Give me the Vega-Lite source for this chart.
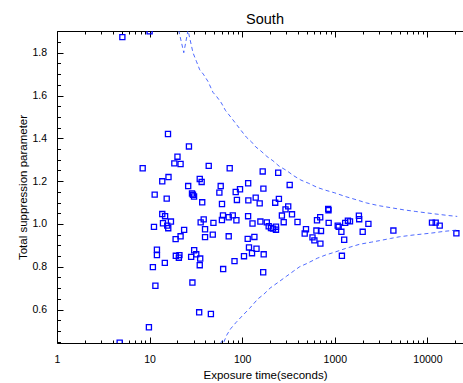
{
  "$schema": "https://vega.github.io/schema/vega-lite/v6.json",
  "width": 406,
  "height": 312,
  "autosize": {"type": "none"},
  "padding": {"left": 57, "top": 31, "right": 0, "bottom": 40},
  "background": "white",
  "config": {"view": {"stroke": null}, "font": "Liberation Sans"},
  "title": {"text": "South", "fontSize": 14.5, "fontWeight": "normal", "font": "Liberation Sans", "color": "black", "dx": 5, "dy": 17, "offset": 5, "baseline": "alphabetic"},
  "datasets": {
    "pts": [
      {"t": 5.08, "v": 1.873}, {"t": 10.0, "v": 1.9}, {"t": 4.75, "v": 0.445}, {"t": 8.42, "v": 1.26},
      {"t": 15.8, "v": 1.42}, {"t": 26.6, "v": 1.362}, {"t": 20.0, "v": 1.314}, {"t": 18.5, "v": 1.283},
      {"t": 21.6, "v": 1.28}, {"t": 43.5, "v": 1.271}, {"t": 73.3, "v": 1.26}, {"t": 13.7, "v": 1.199},
      {"t": 16.0, "v": 1.219}, {"t": 34.8, "v": 1.21}, {"t": 36.5, "v": 1.196}, {"t": 26.1, "v": 1.177},
      {"t": 58.6, "v": 1.177}, {"t": 116, "v": 1.19}, {"t": 11.35, "v": 1.137}, {"t": 15.3, "v": 1.118},
      {"t": 28.7, "v": 1.142}, {"t": 29.4, "v": 1.136}, {"t": 30.2, "v": 1.128}, {"t": 56.7, "v": 1.146},
      {"t": 85.1, "v": 1.149}, {"t": 94.7, "v": 1.162}, {"t": 87.7, "v": 1.112}, {"t": 116.5, "v": 1.11},
      {"t": 37.0, "v": 1.101}, {"t": 60.5, "v": 1.093}, {"t": 13.7, "v": 1.046}, {"t": 14.7, "v": 1.036},
      {"t": 11.15, "v": 0.986}, {"t": 13.95, "v": 1.003}, {"t": 15.5, "v": 0.992}, {"t": 15.9, "v": 0.98},
      {"t": 17.0, "v": 1.011}, {"t": 23.6, "v": 0.972}, {"t": 19.1, "v": 0.929}, {"t": 21.6, "v": 0.942},
      {"t": 35.6, "v": 1.007}, {"t": 38.4, "v": 1.021}, {"t": 39.7, "v": 0.975}, {"t": 48.9, "v": 1.005},
      {"t": 62.0, "v": 1.04}, {"t": 60.4, "v": 1.018}, {"t": 71.5, "v": 1.031}, {"t": 79.1, "v": 1.04},
      {"t": 86.6, "v": 1.017}, {"t": 115.8, "v": 1.036}, {"t": 39.7, "v": 0.938}, {"t": 48.1, "v": 0.95},
      {"t": 71.5, "v": 0.942}, {"t": 114.7, "v": 0.93}, {"t": 12.0, "v": 0.88}, {"t": 12.0, "v": 0.854},
      {"t": 30.3, "v": 0.877}, {"t": 31.9, "v": 0.858}, {"t": 28.1, "v": 0.846}, {"t": 35.2, "v": 0.838},
      {"t": 34.8, "v": 0.807}, {"t": 14.6, "v": 0.818}, {"t": 10.85, "v": 0.798}, {"t": 19.2, "v": 0.851},
      {"t": 21.0, "v": 0.854}, {"t": 20.7, "v": 0.842}, {"t": 11.55, "v": 0.711}, {"t": 29.0, "v": 0.726},
      {"t": 62.3, "v": 0.789}, {"t": 82.6, "v": 0.826}, {"t": 104.6, "v": 0.849}, {"t": 118.4, "v": 0.89},
      {"t": 34.3, "v": 0.587}, {"t": 45.9, "v": 0.579}, {"t": 9.83, "v": 0.517}, {"t": 142.7, "v": 0.884},
      {"t": 127.6, "v": 0.863}, {"t": 170.7, "v": 0.858}, {"t": 168.6, "v": 0.774}, {"t": 135.4, "v": 0.939},
      {"t": 166.5, "v": 1.245}, {"t": 244.8, "v": 1.239}, {"t": 169.4, "v": 1.165}, {"t": 325.8, "v": 1.182},
      {"t": 139.9, "v": 1.123}, {"t": 154.5, "v": 1.096}, {"t": 249.1, "v": 1.117}, {"t": 227.2, "v": 1.099},
      {"t": 314, "v": 1.082}, {"t": 293.6, "v": 1.068}, {"t": 345, "v": 1.045}, {"t": 268.4, "v": 1.039},
      {"t": 129.2, "v": 1.002}, {"t": 157.2, "v": 1.011}, {"t": 184.4, "v": 1.007}, {"t": 193.3, "v": 0.989},
      {"t": 204.6, "v": 0.981}, {"t": 215.1, "v": 0.978}, {"t": 231.7, "v": 0.987}, {"t": 231.7, "v": 0.973},
      {"t": 280.7, "v": 1.008}, {"t": 395.6, "v": 1.009}, {"t": 848.6, "v": 1.07}, {"t": 855, "v": 1.064},
      {"t": 695.7, "v": 1.031}, {"t": 642.5, "v": 1.017}, {"t": 859, "v": 1.005}, {"t": 488.6, "v": 0.975},
      {"t": 473.2, "v": 0.955}, {"t": 633, "v": 0.969}, {"t": 709.6, "v": 0.967}, {"t": 574.4, "v": 0.937},
      {"t": 602, "v": 0.923}, {"t": 699, "v": 0.908}, {"t": 1075, "v": 0.992}, {"t": 1102, "v": 0.986},
      {"t": 1178, "v": 0.963}, {"t": 1263, "v": 0.926}, {"t": 1193, "v": 0.851}, {"t": 1295, "v": 1.005},
      {"t": 1385, "v": 1.015}, {"t": 1459, "v": 1.012}, {"t": 1821, "v": 1.038}, {"t": 1834, "v": 1.022},
      {"t": 2306, "v": 1.0}, {"t": 2001, "v": 0.963}, {"t": 4293, "v": 0.969}, {"t": 11210, "v": 1.006},
      {"t": 12290, "v": 1.006}, {"t": 13580, "v": 0.992}, {"t": 20570, "v": 0.956}
    ],
    "curves": [
      {"s": "u", "o": 1, "t": 20.6, "v": 1.905}, {"s": "u", "o": 2, "t": 23.4, "v": 1.8}, {"s": "u", "o": 3, "t": 26.0, "v": 1.905},
      {"s": "u", "o": 4, "t": 29.4, "v": 1.8}, {"s": "u", "o": 5, "t": 32, "v": 1.76}, {"s": "u", "o": 6, "t": 34.8, "v": 1.72},
      {"s": "u", "o": 7, "t": 38, "v": 1.7}, {"s": "u", "o": 8, "t": 42.8, "v": 1.665}, {"s": "u", "o": 9, "t": 48.3, "v": 1.615},
      {"s": "u", "o": 10, "t": 53, "v": 1.595}, {"s": "u", "o": 11, "t": 59.6, "v": 1.565}, {"s": "u", "o": 12, "t": 66, "v": 1.53},
      {"s": "u", "o": 13, "t": 75, "v": 1.5}, {"s": "u", "o": 14, "t": 86.6, "v": 1.465}, {"s": "u", "o": 15, "t": 98, "v": 1.435},
      {"s": "u", "o": 16, "t": 111, "v": 1.405}, {"s": "u", "o": 17, "t": 125, "v": 1.385}, {"s": "u", "o": 18, "t": 140, "v": 1.36},
      {"s": "u", "o": 19, "t": 160, "v": 1.34}, {"s": "u", "o": 20, "t": 185, "v": 1.315}, {"s": "u", "o": 21, "t": 215, "v": 1.295},
      {"s": "u", "o": 22, "t": 250, "v": 1.27}, {"s": "u", "o": 23, "t": 300, "v": 1.25}, {"s": "u", "o": 24, "t": 360, "v": 1.225},
      {"s": "u", "o": 25, "t": 430, "v": 1.205}, {"s": "u", "o": 26, "t": 520, "v": 1.19}, {"s": "u", "o": 27, "t": 650, "v": 1.17},
      {"s": "u", "o": 28, "t": 800, "v": 1.157}, {"s": "u", "o": 29, "t": 1000, "v": 1.145}, {"s": "u", "o": 30, "t": 1300, "v": 1.128},
      {"s": "u", "o": 31, "t": 1700, "v": 1.113}, {"s": "u", "o": 32, "t": 2200, "v": 1.098}, {"s": "u", "o": 33, "t": 3000, "v": 1.085},
      {"s": "u", "o": 34, "t": 4000, "v": 1.076}, {"s": "u", "o": 35, "t": 5500, "v": 1.066}, {"s": "u", "o": 36, "t": 7500, "v": 1.058},
      {"s": "u", "o": 37, "t": 10000, "v": 1.051}, {"s": "u", "o": 38, "t": 13000, "v": 1.045}, {"s": "u", "o": 39, "t": 17000, "v": 1.039},
      {"s": "u", "o": 40, "t": 21000, "v": 1.035},
      {"s": "l", "o": 1, "t": 58, "v": 0.44}, {"s": "l", "o": 2, "t": 61, "v": 0.455}, {"s": "l", "o": 3, "t": 63, "v": 0.445},
      {"s": "l", "o": 4, "t": 68, "v": 0.48}, {"s": "l", "o": 5, "t": 75, "v": 0.51}, {"s": "l", "o": 6, "t": 86, "v": 0.54},
      {"s": "l", "o": 7, "t": 100, "v": 0.57}, {"s": "l", "o": 8, "t": 120, "v": 0.605}, {"s": "l", "o": 9, "t": 148, "v": 0.65},
      {"s": "l", "o": 10, "t": 170, "v": 0.67}, {"s": "l", "o": 11, "t": 200, "v": 0.7}, {"s": "l", "o": 12, "t": 250, "v": 0.73},
      {"s": "l", "o": 13, "t": 300, "v": 0.755}, {"s": "l", "o": 14, "t": 360, "v": 0.78}, {"s": "l", "o": 15, "t": 418, "v": 0.8},
      {"s": "l", "o": 16, "t": 500, "v": 0.815}, {"s": "l", "o": 17, "t": 650, "v": 0.84}, {"s": "l", "o": 18, "t": 800, "v": 0.855},
      {"s": "l", "o": 19, "t": 1000, "v": 0.868}, {"s": "l", "o": 20, "t": 1300, "v": 0.885}, {"s": "l", "o": 21, "t": 1858, "v": 0.905},
      {"s": "l", "o": 22, "t": 2500, "v": 0.915}, {"s": "l", "o": 23, "t": 3054, "v": 0.922}, {"s": "l", "o": 24, "t": 4000, "v": 0.932},
      {"s": "l", "o": 25, "t": 5023, "v": 0.94}, {"s": "l", "o": 26, "t": 7000, "v": 0.948}, {"s": "l", "o": 27, "t": 9000, "v": 0.953},
      {"s": "l", "o": 28, "t": 11490, "v": 0.958}, {"s": "l", "o": 29, "t": 15000, "v": 0.965}, {"s": "l", "o": 30, "t": 20560, "v": 0.971}
    ]
  },
  "layer": [
    {
      "data": {"name": "pts"},
      "mark": {"type": "point", "shape": "square", "filled": false, "size": 26, "strokeWidth": 1.3, "color": "#0000ff", "opacity": 1, "clip": true},
      "encoding": {
        "x": {
          "field": "t", "type": "quantitative",
          "scale": {"type": "log", "domain": [1, 24240], "nice": false},
          "axis": {
            "orient": "bottom",
            "values": [1,2,3,4,5,6,7,8,9,10,20,30,40,50,60,70,80,90,100,200,300,400,500,600,700,800,900,1000,2000,3000,4000,5000,6000,7000,8000,9000,10000,20000],
            "labelExpr": "indexof([1,10,100,1000,10000], datum.value) >= 0 ? format(datum.value, 'd') : ''",
            "labelOverlap": false, "labelFlush": false,
            "labelFont": "Liberation Sans", "labelFontSize": 10.5, "labelColor": "black", "labelPadding": 17,
            "tickColor": "black", "tickWidth": 1,
            "tickSize": {"condition": {"test": "indexof([1,10,100,1000,10000], datum.value) >= 0", "value": -6}, "value": -3},
            "domainColor": "black", "domainWidth": 1, "grid": false,
            "title": "Exposure time(seconds)", "titleFont": "Liberation Sans", "titleFontSize": 11.5, "titleFontWeight": "normal", "titleColor": "black",
            "titleX": 208, "titleY": 35.5, "titleBaseline": "alphabetic", "titleAlign": "center"
          }
        },
        "y": {
          "field": "v", "type": "quantitative",
          "scale": {"domain": [0.4435, 1.9014], "nice": false, "zero": false},
          "axis": {
            "orient": "left",
            "values": [0.45,0.5,0.55,0.6,0.65,0.7,0.75,0.8,0.85,0.9,0.95,1.0,1.05,1.1,1.15,1.2,1.25,1.3,1.35,1.4,1.45,1.5,1.55,1.6,1.65,1.7,1.75,1.8,1.85,1.9],
            "labelExpr": "abs(datum.value*5 - round(datum.value*5)) < 0.01 ? format(datum.value, '.1f') : ''",
            "labelOverlap": false, "labelFlush": false,
            "labelFont": "Liberation Sans", "labelFontSize": 10.5, "labelColor": "black", "labelPadding": 16.5,
            "tickColor": "black", "tickWidth": 1,
            "tickSize": {"condition": {"test": "abs(datum.value*5 - round(datum.value*5)) < 0.01", "value": -6}, "value": -3.5},
            "domainColor": "black", "domainWidth": 1, "grid": false,
            "title": "Total suppression parameter", "titleFont": "Liberation Sans", "titleFontSize": 11.5, "titleFontWeight": "normal", "titleColor": "black",
            "titleX": -31, "titleY": 156, "titleAngle": -90, "titleBaseline": "alphabetic", "titleAlign": "center"
          }
        }
      }
    },
    {
      "data": {"name": "curves"},
      "mark": {"type": "line", "strokeDash": [4, 3], "strokeWidth": 1, "color": "#3050ff", "opacity": 0.85, "clip": true},
      "encoding": {
        "x": {
          "field": "t", "type": "quantitative",
          "scale": {"type": "log", "domain": [1, 24240], "nice": false},
          "axis": {
            "orient": "top",
            "values": [1,2,3,4,5,6,7,8,9,10,20,30,40,50,60,70,80,90,100,200,300,400,500,600,700,800,900,1000,2000,3000,4000,5000,6000,7000,8000,9000,10000,20000],
            "labels": false, "title": null, "grid": false,
            "tickColor": "black", "tickWidth": 1,
            "tickSize": {"condition": {"test": "indexof([1,10,100,1000,10000], datum.value) >= 0", "value": -6}, "value": -3},
            "domainColor": "black", "domainWidth": 1
          }
        },
        "y": {"field": "v", "type": "quantitative", "scale": {"domain": [0.4435, 1.9014], "nice": false, "zero": false}, "axis": null},
        "detail": {"field": "s"},
        "order": {"field": "o"}
      }
    }
  ],
  "resolve": {"axis": {"x": "independent", "y": "independent"}}
}
